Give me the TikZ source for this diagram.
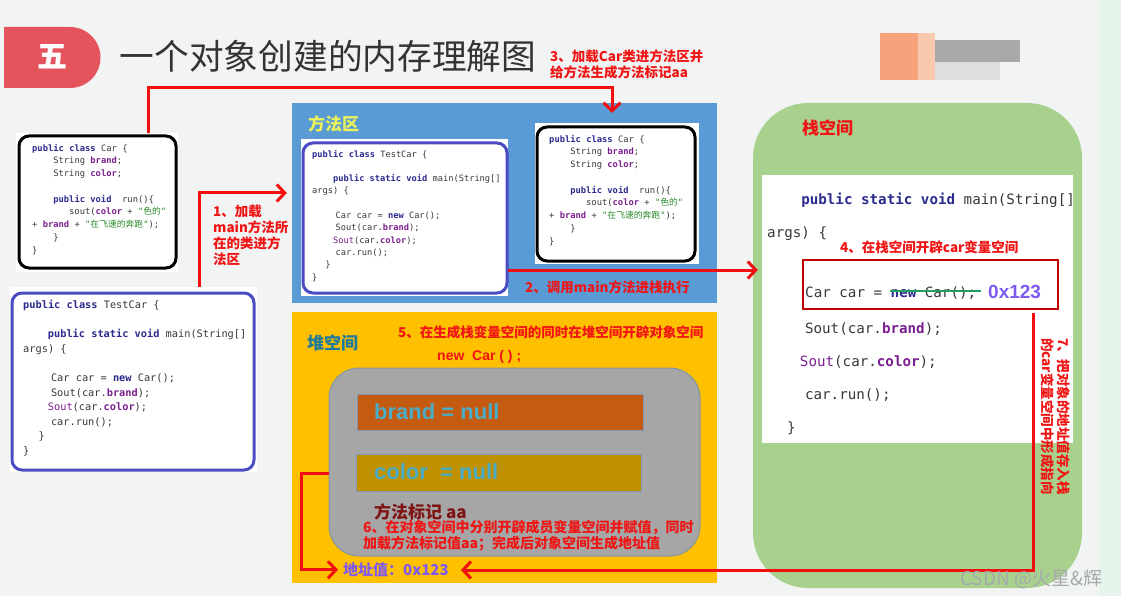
\documentclass[tikz,border=0pt]{standalone}
\usepackage{fontspec}
\setmainfont{Noto Sans CJK SC}
\setmonofont{DejaVu Sans Mono}
\newfontfamily\arialf{Liberation Sans}
\usetikzlibrary{arrows.meta,calc,positioning}

\definecolor{bgcol}{HTML}{F2F4F4}
\definecolor{mint}{HTML}{E7F4EC}
\definecolor{badgered}{HTML}{E5535D}
\definecolor{titlegrey}{HTML}{333333}
\definecolor{lblred}{HTML}{F01414}
\definecolor{arrowred}{HTML}{F20F0F}
\definecolor{methodblue}{HTML}{5B9BD5}
\definecolor{mtitle}{HTML}{ECF25C}
\definecolor{heapyellow}{HTML}{FFC000}
\definecolor{htitle}{HTML}{1E7B9C}
\definecolor{objgrey}{HTML}{A6A6A6}
\definecolor{objedge}{HTML}{8494A4}
\definecolor{brandbar}{HTML}{C55A11}
\definecolor{colorbar}{HTML}{BF9000}
\definecolor{baredge}{HTML}{8497B0}
\definecolor{barcyan}{HTML}{4BACC6}
\definecolor{markred}{HTML}{7E1414}
\definecolor{addrpurple}{HTML}{7E5AF2}
\definecolor{stackgreen}{HTML}{A9D18E}
\definecolor{boxred}{HTML}{C00000}
\definecolor{strikegreen}{HTML}{1FA060}
\definecolor{kwblue}{HTML}{2B2A8E}
\definecolor{fdpurple}{HTML}{7B1F8F}
\definecolor{strgreen}{HTML}{2A8A2A}
\definecolor{codegrey}{HTML}{383838}
\definecolor{frameblue}{HTML}{4B4BC4}
\definecolor{wmgrey}{HTML}{A4AAAA}
\definecolor{blurorange}{HTML}{F7A27A}
\definecolor{blurlight}{HTML}{F9C9AE}
\definecolor{blurgrey}{HTML}{A9A9A9}
\definecolor{blurpale}{HTML}{DEDEDE}

% code snippets
\newcommand{\kw}[1]{\textcolor{kwblue}{\bfseries #1}}
\newcommand{\fd}[1]{\textcolor{fdpurple}{\bfseries #1}}
\newcommand{\st}[1]{\textcolor{strgreen}{#1}}
\newcommand{\cind}[1]{\hspace*{#1\dimexpr0.6em\relax}}
\newcommand{\carcode}{%
\kw{public class} Car \{\\
\cind{4}String \fd{brand};\\
\cind{4}String \fd{color};\\[\baselineskip]
\cind{4}\kw{public void}\ \ run()\{\\
\cind{7}sout(\fd{color} + \st{"\textrm{色的}"}\\
+ \fd{brand} + \st{"\textrm{在飞速的奔跑}"});\\
\cind{4}\}\\
\}}
\newcommand{\tccode}{%
\kw{public class} TestCar \{\\[\baselineskip]
\cind{4}\kw{public static void} main(String[]\\
args) \{\\[\baselineskip]
\cind{4.5}Car car = \kw{new} Car();\\
\cind{4.5}Sout(car.\fd{brand});\\
\cind{4}\textcolor{fdpurple}{Sout}(car.\fd{color});\\
\cind{4.5}car.run();\\
\cind{2.5}\}\\
\}}
\newcommand{\carfont}{\ttfamily\fontsize{8.8}{12.75}\selectfont}
\newcommand{\stackfont}{\ttfamily\fontsize{14.2}{32.7}\selectfont}

\begin{document}
\begin{tikzpicture}[x=1pt,y=-1pt,
  flow/.style={draw=arrowred, line width=3pt, -{Straight Barb[length=8pt,width=17pt]}},
  lbl/.style={text=lblred, font=\fontsize{13.5}{16}\selectfont\bfseries, align=left, inner sep=0pt, anchor=base west},
  whitebg/.style={fill=white, inner sep=0pt},
  frame/.style={draw, line width=3pt, rounded corners=10pt, inner sep=0pt},
  code/.style={text=codegrey, align=left, inner sep=0pt, anchor=base west},
  area/.style={inner sep=0pt},
  areatitle/.style={font=\fontsize{17}{20}\selectfont\bfseries, inner sep=0pt, anchor=base west},
  bartext/.style={text=barcyan, font=\arialf\fontsize{22}{24}\selectfont\bfseries, inner sep=0pt, anchor=west}]

  % background
  \fill[bgcol] (0,0) rectangle (1121,596);
  \fill[mint] (1099,0) rectangle (1121,596);
  \useasboundingbox (0,0) rectangle (1121,596);

  % heading
  \fill[badgered] (4,27) rectangle (70,88) (70,57.5) circle[radius=30.5pt];
  \node[text=white, font=\fontsize{30}{30}\selectfont\bfseries, inner sep=0pt] (badge) at (52,57) {五};
  \node[text=titlegrey, font=\fontsize{34.7}{38}\selectfont, inner sep=0pt, anchor=base west] (title) at (119.6,70) {一个对象创建的内存理解图};
  \fill[blurorange] (880,33) rectangle (918,80);
  \fill[blurlight] (918,33) rectangle (935,80);
  \fill[blurgrey] (935,40) rectangle (1020,62);
  \fill[blurpale] (935,62) rectangle (1000,80);

  % memory areas
  \node[area, fill=methodblue, minimum width=425pt, minimum height=200pt] (marea) at (504.5,203) {};
  \node[areatitle, text=mtitle] (mtitle) at (308,130.5) {方法区};
  \node[area, fill=heapyellow, minimum width=425pt, minimum height=271pt] (heap) at (504.5,447.5) {};
  \node[areatitle, text=htitle] (htitle) at (307,349.5) {堆空间};
  \node[area, fill=stackgreen, rounded corners=55pt, minimum width=329pt, minimum height=485pt] (stack) at (917.5,345.5) {};
  \node[areatitle, text=lblred] (stitle) at (802,134.5) {栈空间};
  \node[whitebg, minimum width=311pt, minimum height=268pt] (stackbg) at (917.5,309) {};

  % class files (multi-line texts are placed by their last baseline)
  \node[whitebg, minimum width=162pt, minimum height=139pt] (carLbg) at (97,202.5) {};
  \node[frame, minimum width=157pt, minimum height=132pt] (carL) at (97.5,202) {};
  \node[code, font=\carfont] (carLtxt) at (32,253) {\carcode};
  \node[whitebg, minimum width=247pt, minimum height=185pt] (tcLbg) at (133.5,379.5) {};
  \node[frame, draw=frameblue, minimum width=242pt, minimum height=177pt] (tcL) at (133,381.5) {};
  \node[code, font=\ttfamily\fontsize{10.3}{14.6}\selectfont] (tcLtxt) at (23,454.5) {\tccode};

  % method area content
  \node[whitebg, minimum width=207pt, minimum height=157pt] (tcMbg) at (404.5,217.5) {};
  \node[frame, draw=frameblue, minimum width=204pt, minimum height=150pt] (tcM) at (405,218) {};
  \node[code, font=\ttfamily\fontsize{8.7}{12.3}\selectfont] (tcMtxt) at (312,280) {\tccode};
  \node[whitebg, minimum width=164pt, minimum height=141pt] (carMbg) at (617,193.5) {};
  \node[frame, minimum width=158pt, minimum height=134pt] (carM) at (616,194) {};
  \node[code, font=\carfont] (carMtxt) at (549,244) {\carcode};

  % heap object
  \node[area, fill=objgrey, draw=objedge, line width=1pt, rounded corners=30pt, minimum width=371pt, minimum height=188pt] (obj) at (514.5,462) {};
  \node[area, fill=brandbar, draw=baredge, line width=1pt, minimum width=286pt, minimum height=36pt] (brandbar) at (500,412) {};
  \node[area, fill=colorbar, draw=baredge, line width=1pt, minimum width=285pt, minimum height=37pt] (colorbar) at (498.5,472.5) {};
  \node[bartext] (brandtxt) at (374,412) {brand = null};
  \node[bartext] (colortxt) at (374,472) {color\ \ = null};
  \node[text=markred, font=\fontsize{17}{20}\selectfont\bfseries, inner sep=0pt, anchor=base west] (mark) at (374,518.5) {方法标记 aa};
  \node[text=addrpurple, font=\fontsize{15}{16}\selectfont\bfseries, inner sep=0pt, anchor=base west] (addr) at (343,575.5) {地址值：0x123};

  % stack frame
  \node[code, font=\stackfont] (stackhead) at (767,237) {\cind{4}\kw{public static void} main(String[]\\args) \{};
  \node[draw=boxred, line width=2pt, minimum width=255pt, minimum height=49pt, inner sep=0pt] (redbox) at (930.5,284.5) {};
  \node[code, font=\stackfont] (carline) at (805,297) {Car car = \kw{new} Car();};
  \draw[strikegreen, line width=2.5pt] (890,291) -- (981,291);
  \node[text=addrpurple, font=\arialf\fontsize{19}{20}\selectfont\bfseries, inner sep=0pt, anchor=west] (ptr) at (988,292) {0x123};
  \node[code, font=\stackfont] (stackbody) at (787,432) {\cind{2.1}Sout(car.\fd{brand});\\\cind{1.5}\textcolor{fdpurple}{Sout}(car.\fd{color});\\\cind{2.1}car.run();\\\}};

  % steps
  \node[lbl] (l1) at (213,264) {1、加载\\main方法所\\在的类进方\\法区};
  \node[lbl] (l2) at (525,292) {2、调用main方法进栈执行};
  \node[lbl] (l3) at (550,78) {3、加载Car类进方法区并\\给方法生成方法标记aa};
  \node[lbl] (l4) at (840,252) {4、在栈空间开辟car变量空间};
  \node[lbl] (l5) at (398,337) {5、在生成栈变量空间的同时在堆空间开辟对象空间};
  \node[lbl, font=\arialf\fontsize{14}{16}\selectfont\bfseries] (l5b) at (437,360) {new\ \ Car ( ) ;};
  \node[lbl, font=\fontsize{14}{16.5}\selectfont\bfseries] (l6) at (363,548.5) {6、在对象空间中分别开辟成员变量空间并赋值，同时\\加载方法标记值aa；完成后对象空间生成地址值};
  \node[lbl, rotate=-90] (l7) at (1042,338) {7、把对象的地址值存入栈\\的car变量空间中形成指向};

  % arrows
  \coordinate (a1) at (199,193);
  \draw[flow] (tcLbg.north -| a1) -- (a1) -- ([xshift=-5pt]marea.west |- a1);
  \coordinate (a2) at (509,270);
  \draw[flow] (tcMbg.east |- a2) -- ([xshift=-4pt]stackbg.west |- a2);
  \coordinate (a3) at (148,88);
  \coordinate (a3x) at (612,88);
  \draw[flow] (carLbg.north -| a3) -- (a3) -- (a3x) -- ([yshift=10pt]carMbg.north -| a3x);
  \coordinate (a6) at (301,473);
  \draw[flow] (obj.west |- a6) -- (a6) |- ([xshift=-5pt]addr.west);
  \coordinate (a7) at (1033,570);
  \draw[flow] ([yshift=-3pt]redbox.south -| a7) -- (a7) -- ([xshift=12pt]addr.east |- a7);

  \node[text=wmgrey, font=\fontsize{19}{20}\selectfont, inner sep=0pt, anchor=west] (wm) at (960,579) {CSDN @火星\&辉};
\end{tikzpicture}
\end{document}
